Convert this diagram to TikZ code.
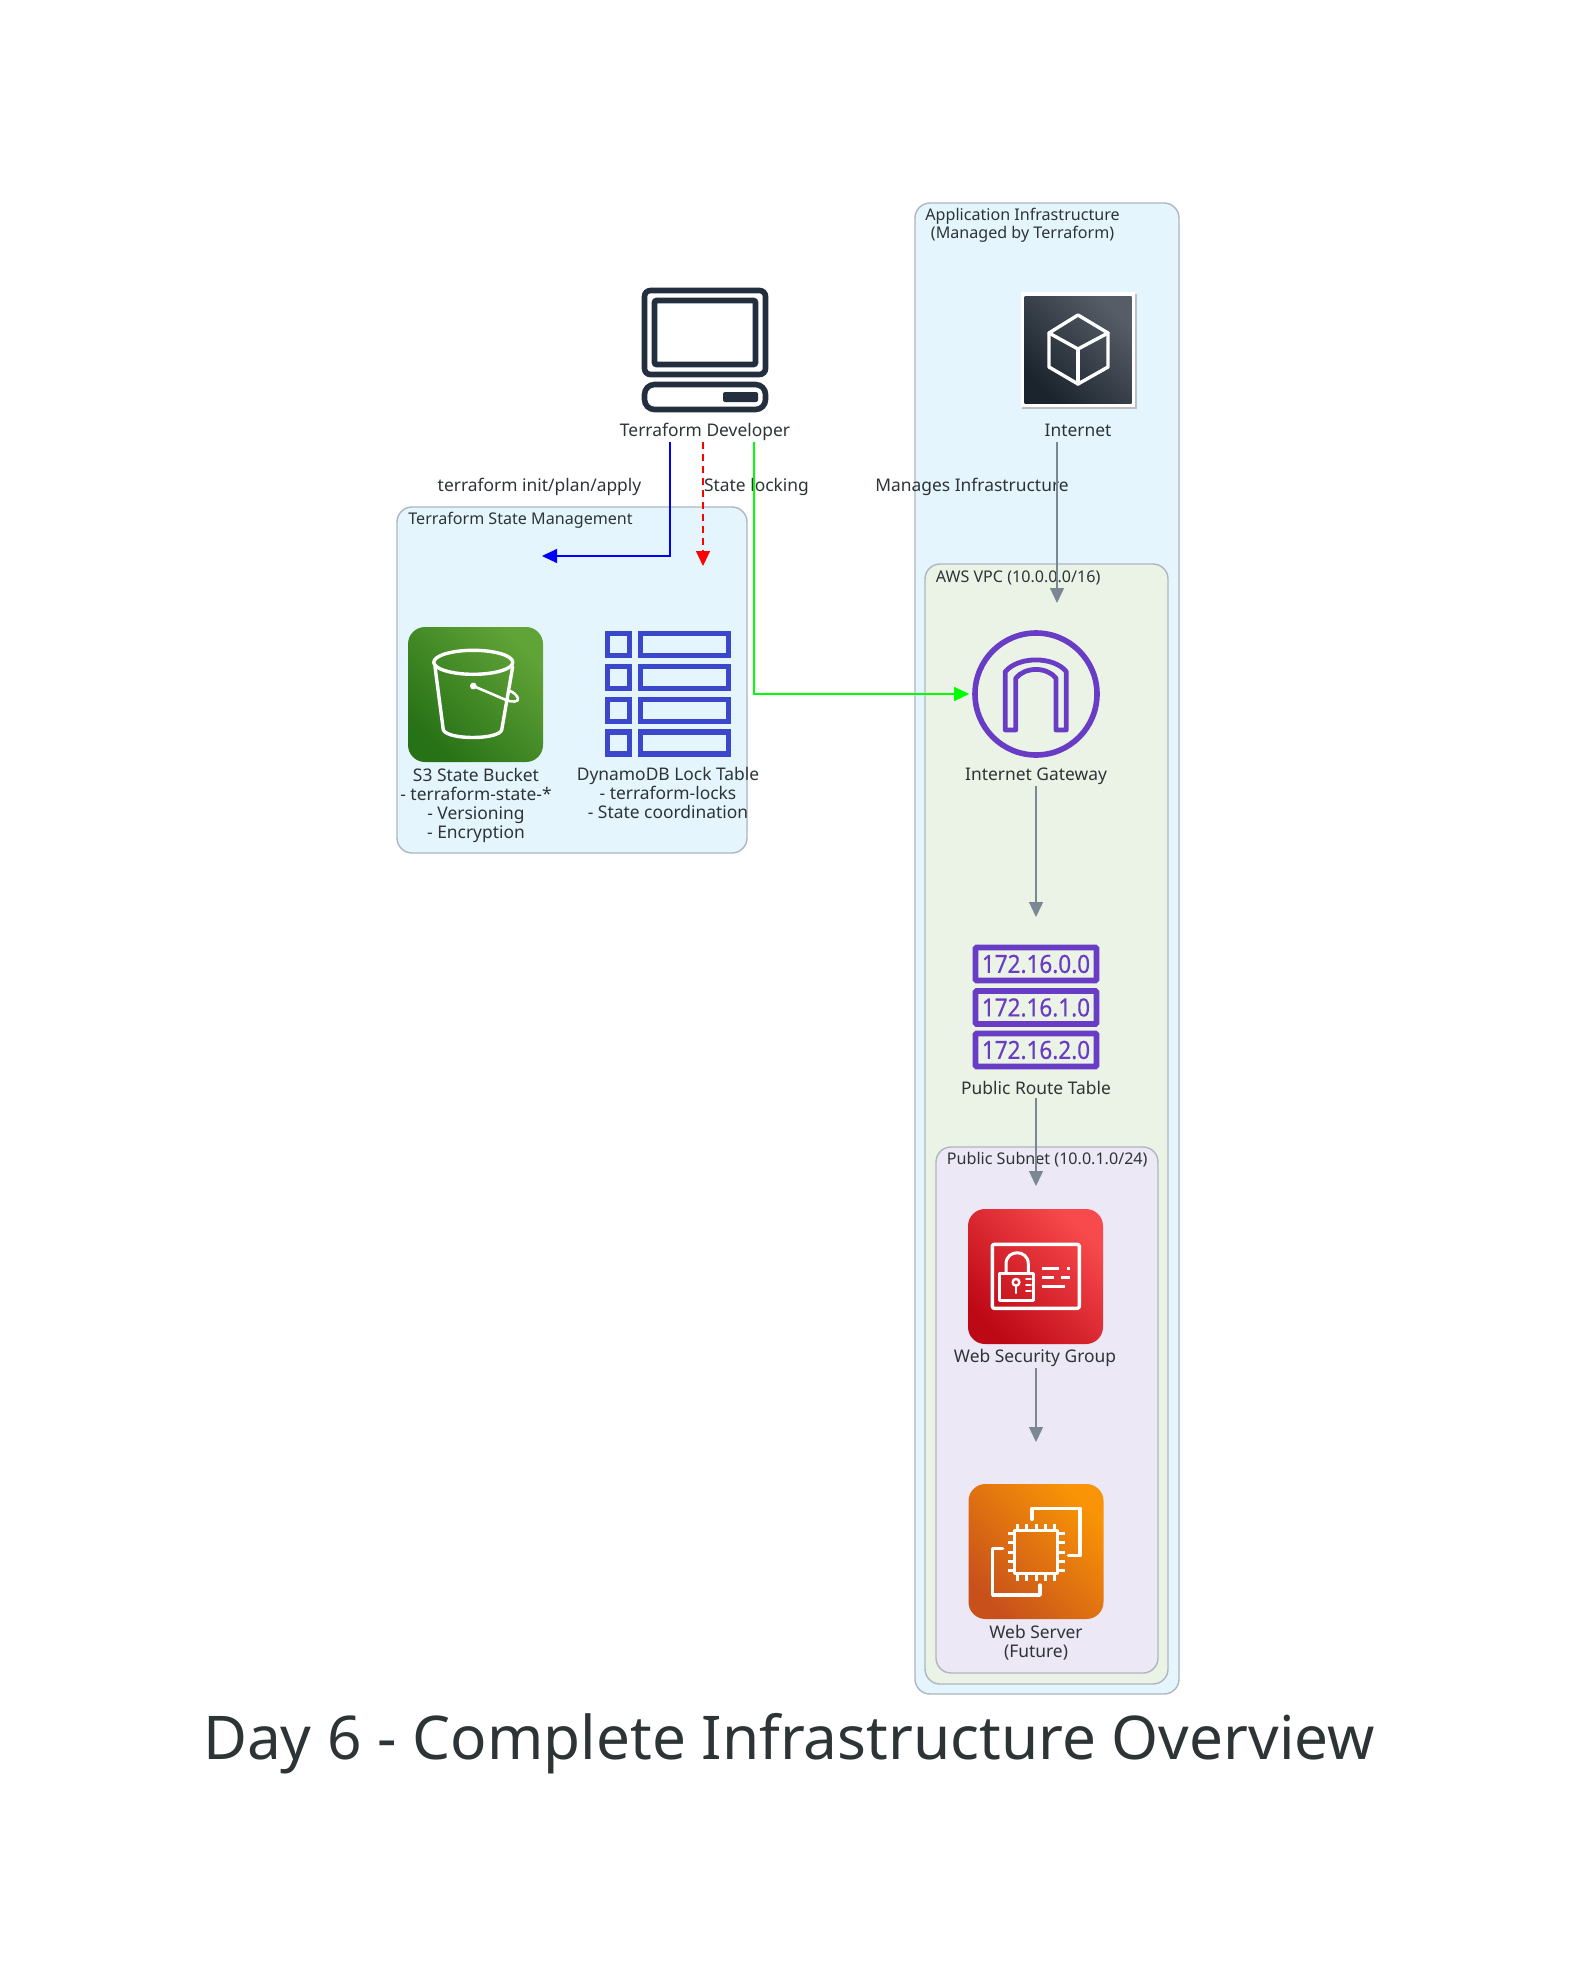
\documentclass[tikz,border=0pt]{standalone}
\usepackage{fontspec}
\setmainfont{Noto Sans}
\newfontfamily\routefont[FakeBold=0.5]{Noto Sans}
\usetikzlibrary{arrows.meta}
\definecolor{inkdark}{HTML}{2D3436}
\definecolor{navyicon}{HTML}{232F3E}
\definecolor{purpleicon}{HTML}{693CC5}
\definecolor{blueicon}{HTML}{3B48CC}
\definecolor{edgegray}{HTML}{7B8894}
\definecolor{clusterline}{HTML}{AEB6BE}
\definecolor{skyfill}{HTML}{E5F5FD}
\definecolor{leaffill}{HTML}{EBF3E7}
\definecolor{lilacfill}{HTML}{ECE8F6}
\definecolor{stonelow}{HTML}{1B232C}
\definecolor{stonehigh}{HTML}{565D66}
\definecolor{leaflow}{HTML}{277116}
\definecolor{leafhigh}{HTML}{60A337}
\definecolor{redlow}{HTML}{BD0816}
\definecolor{redhigh}{HTML}{F84A4C}
\definecolor{amberlow}{HTML}{C8511B}
\definecolor{amberhigh}{HTML}{F89406}
\tikzset{
	cluster/.style={draw=clusterline,line width=0.7pt,rounded corners=7.5pt},
	clustertext/.style={font=\fontsize{8.05}{9}\selectfont,text=inkdark,anchor=west,inner sep=0pt,align=center},
	nodetext/.style={font=\fontsize{8.7}{9.5}\selectfont,text=inkdark,inner sep=0pt,align=center,minimum height=10pt},
	edgetext/.style={font=\fontsize{8.7}{11}\selectfont,text=inkdark,inner sep=0pt},
	edge/.style={-{Triangle[length=7.5pt,width=7pt]},draw=edgegray,line width=0.65pt},
	awsicon/.style 2 args={rounded corners=8.5pt,minimum size=67.5pt,inner sep=0pt,bottom color=#1,top color=#2,shading angle=-45},
	whiteline/.style={draw=white,line width=1.7pt,line join=round,line cap=round},
	routerow/.style={draw=purpleicon,line width=2.8pt,minimum width=60.5pt,minimum height=16.5pt,inner sep=0pt,text=purpleicon,rounded corners=0.5pt}
}
\begin{document}
\begin{tikzpicture}[x=0.5pt,y=-0.5pt]
	\useasboundingbox (0,0) rectangle (1576,1975);
	% clusters
	\draw[cluster,fill=skyfill] (397,507) rectangle (747,853);
	\draw[cluster,fill=skyfill] (915,203) rectangle (1179,1694);
	\draw[cluster,fill=leaffill] (925,564) rectangle (1168,1684);
	\draw[cluster,fill=lilacfill] (936,1147) rectangle (1158,1673);
	\node[clustertext] (statetitle) at (408,520) {Terraform State Management};
	\node[clustertext] (apptitle) at (925,225) {Application Infrastructure\\(Managed by Terraform)};
	\node[clustertext] (vpctitle) at (935.5,578) {AWS VPC (10.0.0.0/16)};
	\node[clustertext] (subnettitle) at (946.5,1160) {Public Subnet (10.0.1.0/24)};

	% developer
	\draw[navyicon,line width=2.8pt,rounded corners=3pt] (644.5,290.5) rectangle (765.5,374.5);
	\draw[navyicon,line width=2.8pt,rounded corners=1pt] (654.5,300.5) rectangle (755.5,364.5);
	\draw[navyicon,line width=2.8pt,rounded corners=5pt] (644.5,384.5) rectangle (765.5,409.5);
	\fill[navyicon,rounded corners=1pt] (723,392) rectangle (758,402);
	\node[nodetext] (devlabel) at (705,432) {Terraform Developer};

	% internet
	\fill[black!25] (1022,294) rectangle (1136.5,409);
	\fill[white] (1021,292) rectangle (1135,407);
	\node[awsicon={stonelow}{stonehigh},rounded corners=0pt,minimum size=53.5pt] (internet) at (1078,349.5) {};
	\draw[whiteline] (1078,315)--(1108,333)--(1108,367)--(1078,384)--(1049,367)--(1049,333)--cycle;
	\draw[whiteline] (1049,333)--(1078,349)--(1108,333); \draw[whiteline] (1078,349)--(1078,384);
	\node[nodetext] (internetlabel) at (1078,430.5) {Internet};

	% s3 bucket
	\node[awsicon={leaflow}{leafhigh}] (s3) at (475.5,694.5) {};
	\draw[whiteline] (473.3,662.3) ellipse [x radius=19.75pt,y radius=6pt];
	\draw[whiteline] (435,666.7)--(443.3,730) .. controls (448,740) and (498,740) .. (501.7,730)--(512.7,666.7);
	\fill[white] (473.3,686) circle (1.7pt);
	\draw[whiteline,line width=1.3pt] (473.3,686)--(506,700) .. controls (512,702.5) and (519,702) .. (518,698.5) .. controls (517,695) and (513,692) .. (510,691);
	\node[nodetext] (s3label) at (476,805.5) {S3 State Bucket\\- terraform-state-*\\- Versioning\\- Encryption};

	% dynamodb table
	\foreach \y in {644.5,677.5,710.5,743} {
		\draw[blueicon,line width=2.8pt] (607.5,\y-11) rectangle (629.5,\y+11);
		\draw[blueicon,line width=2.8pt] (640.5,\y-11) rectangle (728.5,\y+11);
	}
	\node[nodetext] (lockslabel) at (668,793) {DynamoDB Lock Table\\- terraform-locks\\- State coordination};

	% internet gateway
	\node[circle,draw=purpleicon,line width=2.8pt,minimum size=61pt,inner sep=0pt] (igw) at (1036,694) {};
	\draw[purpleicon,line width=2.4pt,line join=round] (1005.3,730)--(1005.3,671.7) .. controls (1018,656) and (1054,656) .. (1066.3,671.7)--(1066.3,730)--(1056,730)--(1056,678.3) .. controls (1047,666.5) and (1025,666.5) .. (1015.7,678.3)--(1015.7,730)--cycle;
	\node[nodetext] (igwlabel) at (1036,776) {Internet Gateway};

	% route table
	\node[routerow] (rowa) at (1036,964) {\routefont\fontsize{12.5}{12.5}\selectfont\scalebox{0.9}[1]{172.16.0.0}};
	\node[routerow] (rowb) at (1036,1007.5) {\routefont\fontsize{12.5}{12.5}\selectfont\scalebox{0.9}[1]{172.16.1.0}};
	\node[routerow] (rowc) at (1036,1050) {\routefont\fontsize{12.5}{12.5}\selectfont\scalebox{0.9}[1]{172.16.2.0}};
	\node[nodetext] (routelabel) at (1036,1088) {Public Route Table};

	% security group
	\node[awsicon={redlow}{redhigh}] (sg) at (1035.5,1276.5) {};
	\draw[whiteline,rounded corners=1pt] (992.3,1244.3) rectangle (1079.3,1308.3);
	\draw[whiteline,line width=1.5pt] (999.3,1273.3) rectangle (1033.3,1300);
	\draw[whiteline,line width=1.5pt] (1006,1273.3)--(1006,1264) .. controls (1006,1249) and (1028.3,1249) .. (1028.3,1264)--(1028.3,1273.3);
	\draw[whiteline,line width=1.2pt] (1016,1282.3) circle (1.7pt); \draw[whiteline,line width=1.2pt] (1016,1286)--(1016,1293);
	\foreach \y in {1279,1285,1291} {\draw[whiteline,line width=0.8pt] (1026,\y)--(1031,\y);}
	\draw[whiteline,line cap=butt] (1041.7,1268.3)--(1059.3,1268.3); \draw[whiteline,line cap=butt] (1066.7,1268.3)--(1070,1268.3);
	\draw[whiteline,line cap=butt] (1041.7,1277.3)--(1054,1277.3); \draw[whiteline,line cap=butt] (1061,1277.3)--(1070,1277.3);
	\draw[whiteline,line cap=butt] (1041.7,1286.7)--(1065,1286.7);
	\node[nodetext] (sglabel) at (1035,1358) {Web Security Group};

	% web server
	\node[awsicon={amberlow}{amberhigh}] (ec2) at (1036,1551.5) {};
	\draw[whiteline] (1014.5,1530.5) rectangle (1057.5,1573.5);
	\foreach \d in {-18.2,-9.1,0,9.1,18.2} {
		\draw[whiteline,line width=1.5pt,line cap=butt] (1036+\d,1523.5)--(1036+\d,1530.5);
		\draw[whiteline,line width=1.5pt,line cap=butt] (1036+\d,1573.5)--(1036+\d,1580.5);
		\draw[whiteline,line width=1.5pt,line cap=butt] (1007.5,1552+\d)--(1014.5,1552+\d);
		\draw[whiteline,line width=1.5pt,line cap=butt] (1057.5,1552+\d)--(1064.5,1552+\d);
	}
	\draw[whiteline] (1032,1519.3)--(1032,1508.3)--(1080,1508.3)--(1080,1555.7)--(1068.3,1555.7);
	\draw[whiteline] (1002.7,1548.3)--(992.7,1548.3)--(992.7,1595)--(1040,1595)--(1040,1585);
	\node[nodetext] (ec2label) at (1036,1643) {Web Server\\(Future)};

	% connectors
	\coordinate (bluefrom) at (670,442); \coordinate (blueto) at (542,556);
	\coordinate (redfrom) at (703,442); \coordinate (redto) at (703,566);
	\coordinate (greenfrom) at (754,442);
	\coordinate (igwin) at (1057,603); \coordinate (internetfrom) at (1057,442);
	\coordinate (routein) at (1036,917); \coordinate (subnetin) at (1036,1186); \coordinate (serverin) at (1036,1442);
	\node[edgetext] (applytext) at (539.5,487) {terraform init/plan/apply};
	\node[edgetext] (lockingtext) at (756.5,487) {State locking};
	\node[edgetext] (managestext) at (972,487) {Manages Infrastructure};
	\draw[edge,draw=blue,line width=0.55pt,-{Triangle[length=7.5pt,width=7pt,blue]}] (bluefrom) |- (blueto);
	\draw[edge,draw=red,line width=0.55pt,dash pattern=on 3.5pt off 2.5pt,-{Triangle[length=7.5pt,width=7pt,red]}] (redfrom) -- (redto);
	\draw[edge,draw=green,line width=0.55pt,-{Triangle[length=7.5pt,width=7pt,green]},shorten >=1.5pt] (greenfrom) |- (igw.west);
	\draw[edge] (internetfrom) -- (igwin);
	\draw[edge] (igwlabel.south) -- (routein);
	\draw[edge] (routelabel.south) -- (subnetin);
	\draw[edge] (sglabel.south -| serverin) -- (serverin);

	% title
	\node[font=\fontsize{30.15}{36}\selectfont,text=inkdark,inner sep=0pt] (title) at (789,1744) {Day 6 - Complete Infrastructure Overview};
\end{tikzpicture}
\end{document}
